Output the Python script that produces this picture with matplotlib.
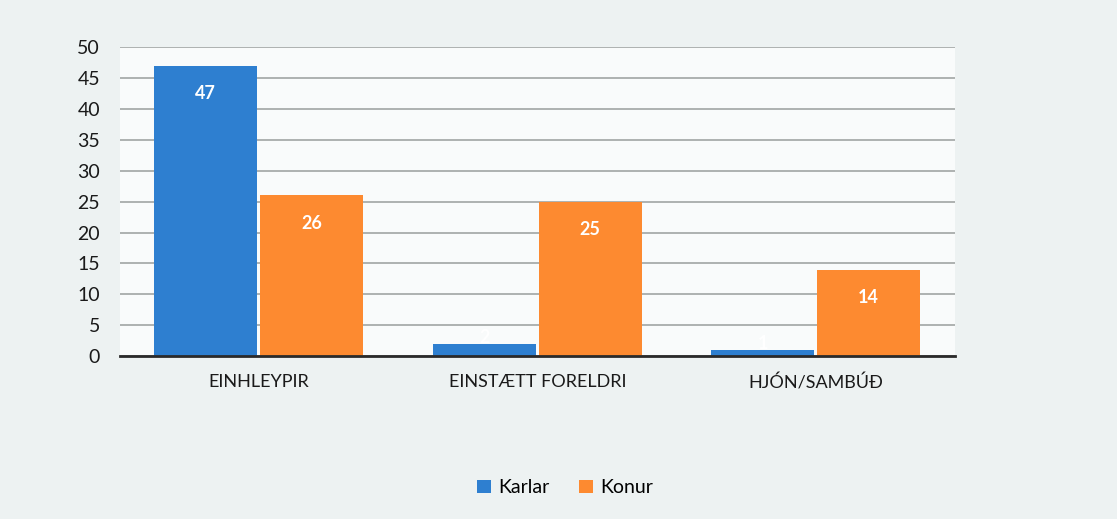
import numpy as np
import matplotlib.pyplot as plt

categories = ["EINHLEYPIR", "EINSTÆTT FORELDRI", "HJÓN/SAMBÚÐ"]
karlar = [47, 2, 1]
konur = [26, 25, 14]

blue = "#2e7fd0"
orange = "#fd8a30"

plt.rcParams['font.family'] = ['Lato', 'DejaVu Sans']

fig = plt.figure(figsize=(11.17, 5.19), dpi=100, facecolor="#edf2f2")
ax = fig.add_axes([0.107, 0.314, 0.748, 0.595])
ax.set_facecolor("#f9fbfb")

x = np.arange(len(categories))
w = 0.37
b1 = ax.bar(x - w / 2 - 0.005, karlar, w, color=blue, label="Karlar", zorder=3)
b2 = ax.bar(x + w / 2 + 0.005, konur, w, color=orange, label="Konur", zorder=3)

for bars, vals in [(b1, karlar), (b2, konur)]:
    for rect, v in zip(bars, vals):
        y = v - 4.5 if v > 5 else v + 1
        ax.text(rect.get_x() + rect.get_width() / 2, y, str(v), ha="center",
                va="center", color="white", fontsize=13, fontweight="bold", zorder=4)

ax.set_xlim(-0.5, 2.5)
ax.set_ylim(0, 50)
ax.set_yticks(range(0, 51, 5))
ax.yaxis.grid(True, color="#a8acab", linewidth=1.3, zorder=0)
ax.tick_params(axis="y", length=0, labelsize=14, pad=14, colors="#1a1a1a")
ax.tick_params(axis="x", length=0, labelsize=13, pad=13, colors="#1a1a1a")
ax.set_xticks(x)
ax.set_xticklabels(categories)
for s in ["top", "right", "left"]:
    ax.spines[s].set_visible(False)
ax.spines["bottom"].set_color("#2a2a2a")
ax.spines["bottom"].set_linewidth(2)
ax.spines["bottom"].set_zorder(5)

fig.legend(loc="center", bbox_to_anchor=(0.506, 0.06), ncol=2, frameon=False,
           fontsize=14, handlelength=0.7, handleheight=0.7, columnspacing=1.5,
           handletextpad=0.4)

fig.savefig("out.png", dpi=100, facecolor=fig.get_facecolor())
